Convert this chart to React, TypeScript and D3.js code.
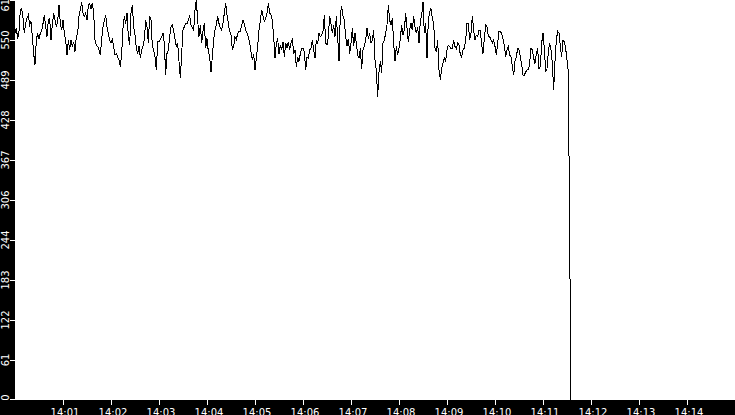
import React from "react";
import * as d3 from "d3";

const WIDTH = 735;
const HEIGHT = 415;

// time axis
const START_TIME = new Date(2000, 0, 1, 14, 0, 0);
const END_TIME = new Date(2000, 0, 1, 14, 15, 0);
const SAMPLE_SECONDS = 5 / 3;
const X_TICK_MINUTES = [1, 2, 3, 4, 5, 6, 7, 8, 9, 10, 11, 12, 13, 14];

// value axis
const Y_MAX = 612;
const Y_TICK_VALUES = [0, 61.2, 122.4, 183.6, 244.8, 306, 367.2, 428.4, 489.6, 550.8, 612];
const Y_TICK_LABELS = ["0", "61", "122", "183", "244", "306", "367", "428", "489", "550", "612"];

// series in consecutive segments
const SEG_1 = [
  561, 569, 553, 564, 597, 599, 584, 561, 576, 584, 589, 574, 579, 556, 530, 513, 551, 561, 553, 561,
  564, 576, 589, 571, 556, 581, 584, 551, 574, 592, 581, 571, 579, 604, 576, 566, 581, 561, 551, 528,
  551, 536, 551, 541, 548, 533, 556, 561, 587, 597, 609, 592, 587, 592, 581, 604, 607, 599, 607, 592,
  551, 543, 541, 536, 528, 551, 571, 581, 589, 571, 561, 551, 546, 553, 541, 528, 530, 525, 520, 510,
  530, 569, 587, 576, 592, 556, 543, 592, 604, 571, 558, 538, 530, 541, 523, 536, 541, 551, 581, 571,
  546, 587, 581, 541, 536, 525, 505,
];
const SEG_2 = [
  548, 548, 551, 556, 561, 546, 497, 530, 536, 556, 571, 574, 564, 553, 541, 546, 518, 492, 530, 566,
  571, 576, 576, 581, 589, 574, 569, 566, 597, 612, 581, 556, 574, 546, 564, 576, 538, 553, 533, 525,
  502, 525, 551, 566, 574, 587, 576, 569, 566, 576, 592, 607, 589, 576, 564, 558, 536, 541, 556, 551,
  561, 564, 564, 574, 581, 576, 566, 561, 556, 546, 533, 520, 530, 505, 523, 541, 566, 581, 597, 587,
  579, 584, 592, 607, 592, 589, 581, 556, 523, 546, 553, 530, 543, 536, 548, 525, 546, 538, 548, 536,
  546, 553, 530, 536, 510,
];
const SEG_3 = [
  525, 518, 530, 538, 538, 533, 505, 525, 523, 536, 538, 551, 536, 523, 551, 546, 561, 556, 558, 564,
  589, 546, 543, 556, 587, 576, 561, 574, 556, 587, 556, 518, 592, 602, 587, 581, 556, 541, 553, 530,
  546, 569, 541, 561, 546, 528, 523, 538, 507, 536, 541, 551, 569, 553, 561, 546, 551, 566, 520, 505,
  464, 502, 518, 500, 546, 551, 561, 574, 604, 581, 574, 584, 546, 518, 541, 528, 538, 553, 574, 558,
  566, 592, 569, 548, 566, 576, 566, 587, 571, 561, 571, 546, 581, 589, 609, 561, 576, 523, 581, 594,
  599, 584, 576, 538, 533,
];
const SEG_4 = [
  551, 505, 490, 507, 515, 523, 518, 536, 543, 541, 538, 538, 551, 541, 538, 546, 543, 528, 525, 536,
  538, 551, 576, 576, 551, 561, 587, 566, 551, 558, 556, 566, 566, 543, 530, 553, 574, 571, 556, 556,
  551, 546, 551, 541, 528, 546, 564, 564, 561, 553, 543, 525, 536, 541, 528, 525, 510, 497, 518, 525,
  538, 536, 525, 513, 497, 497, 502, 505, 505, 515, 538, 536, 523, 515, 530, 538, 507, 510, 546, 561,
  538, 502, 507, 533, 546, 536, 515, 474, 518, 551, 564, 561, 541, 525, 551, 548, 538, 520, 502,
];
const SEG_DROP = [250, 0];

const VALUES: number[] = [...SEG_1, ...SEG_2, ...SEG_3, ...SEG_4, ...SEG_DROP];

const PLOT_LEFT = 15;
const PLOT_RIGHT = 735;
const PLOT_TOP = 0;
const PLOT_BOTTOM = 400;

export default function App() {
  const x = d3.scaleTime().domain([START_TIME, END_TIME]).range([PLOT_LEFT, PLOT_RIGHT]);
  const y = d3.scaleLinear().domain([0, Y_MAX]).range([PLOT_BOTTOM, PLOT_TOP]);

  const points = VALUES.map((v, i) => ({
    t: new Date(START_TIME.getTime() + i * SAMPLE_SECONDS * 1000),
    v,
  }));
  const line = d3
    .line<{ t: Date; v: number }>()
    .x((d) => x(d.t))
    .y((d) => y(d.v));

  const fmt = d3.timeFormat("%H:%M");
  const xTicks = X_TICK_MINUTES.map((m) => d3.timeMinute.offset(START_TIME, m));

  const font = "'DejaVu Sans', Verdana, sans-serif";

  return (
    <div style={{ position: "absolute", left: 0, top: 0, width: WIDTH, height: HEIGHT, background: "#000" }}>
      <svg width={WIDTH} height={HEIGHT} style={{ display: "block" }}>
        <rect x={0} y={0} width={WIDTH} height={HEIGHT} fill="#000" />
        <rect
          x={PLOT_LEFT}
          y={PLOT_TOP}
          width={PLOT_RIGHT - PLOT_LEFT}
          height={PLOT_BOTTOM - PLOT_TOP}
          fill="#fff"
        />
        <clipPath id="plotclip">
          <rect x={PLOT_LEFT} y={PLOT_TOP} width={PLOT_RIGHT - PLOT_LEFT} height={PLOT_BOTTOM - PLOT_TOP} />
        </clipPath>
        <path
          d={line(points) || ""}
          fill="none"
          stroke="#000"
          strokeWidth={1}
          shapeRendering="crispEdges"
          clipPath="url(#plotclip)"
        />
        {/* y axis */}
        {Y_TICK_VALUES.map((tv, i) => {
          const ty = Math.min(Math.max(y(tv), PLOT_TOP + 0.5), PLOT_BOTTOM - 0.5);
          const ly = Math.min(Math.max(y(tv), 2), 397.5);
          return (
            <g key={"y" + i}>
              <line x1={10} x2={PLOT_LEFT} y1={ty} y2={ty} stroke="#fff" strokeWidth={1} shapeRendering="crispEdges" />
              <text
                transform={`translate(9, ${ly}) rotate(-90)`}
                textAnchor="middle"
                fill="#fff"
                fontFamily={font}
                fontSize={10}
              >
                {Y_TICK_LABELS[i]}
              </text>
            </g>
          );
        })}
        {/* x axis */}
        {xTicks.map((t, i) => {
          const tx = Math.round(x(t)) + 0.5;
          return (
            <g key={"x" + i}>
              <line x1={tx} x2={tx} y1={PLOT_BOTTOM} y2={404.5} stroke="#fff" strokeWidth={1} shapeRendering="crispEdges" />
              <text x={tx + 1.5} y={415.5} textAnchor="middle" fill="#fff" fontFamily={font} fontSize={10}>
                {fmt(t)}
              </text>
            </g>
          );
        })}
      </svg>
    </div>
  );
}
